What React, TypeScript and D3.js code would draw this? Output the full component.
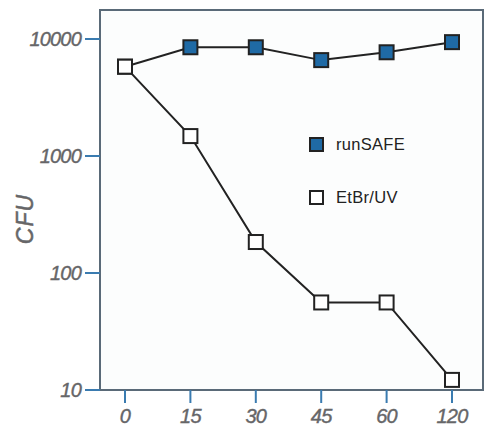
import React from "react";
import * as d3 from "d3";

const times = ["0", "15", "30", "45", "60", "120"];
const runSAFE = [5800, 8500, 8500, 6600, 7700, 9400];
const etbrUV = [5800, 1480, 184, 56, 56, 12.2];
const yTicks = [10, 100, 1000, 10000];
const yTickLabels = ["10", "100", "1000", "10000"];

const W = 486;
const H = 426;
const left = 100, right = 483, top = 10, bottom = 390;

export default function App() {
  const x = d3.scalePoint<string>().domain(times).range([125, 452]);
  const y = d3.scaleLog().domain([10, 10000]).range([bottom, 39]);
  const line = d3
    .line<number>()
    .x((_, i) => x(times[i]) as number)
    .y((d) => y(d));
  const ms = 14;
  const frame = "#5a6a78";
  const tickC = "#3a7bb0";
  const labelC = "#666668";
  const blue = "#1f6aa5";
  const dark = "#222";
  const font = "'Liberation Sans', Arial, sans-serif";

  return (
    <svg width={W} height={H} style={{ position: "absolute", left: 0, top: 0 }}>
      <rect x={0} y={0} width={W} height={H} fill="#fff" />
      <rect x={left} y={top} width={right - left} height={bottom - top} fill="#fcfdfd" stroke={frame} strokeWidth={2} />
      {yTicks.map((t, i) => (
        <g key={t}>
          <line x1={85} x2={left} y1={y(t)} y2={y(t)} stroke={tickC} strokeWidth={2} />
          <text x={81} y={y(t)} dy="0.36em" textAnchor="end" fontFamily={font} fontStyle="italic" fontSize={20} fill={labelC} stroke={labelC} strokeWidth={0.4} letterSpacing={-0.8}>
            {yTickLabels[i]}
          </text>
        </g>
      ))}
      {times.map((t) => (
        <g key={t}>
          <line x1={x(t)} x2={x(t)} y1={bottom} y2={403} stroke={tickC} strokeWidth={2} />
          <text x={x(t)} y={423} textAnchor="middle" fontFamily={font} fontStyle="italic" fontSize={20} fill={labelC} stroke={labelC} strokeWidth={0.4} letterSpacing={-0.8}>
            {t}
          </text>
        </g>
      ))}
      <text transform="translate(33,219) rotate(-90)" textAnchor="middle" fontFamily={font} fontStyle="italic" fontSize={23} fill={labelC} stroke={labelC} strokeWidth={0.5} letterSpacing={1}>
        CFU
      </text>
      <path d={line(runSAFE) || ""} fill="none" stroke={dark} strokeWidth={2} />
      <path d={line(etbrUV) || ""} fill="none" stroke={dark} strokeWidth={2} />
      {runSAFE.map((v, i) => (
        <rect key={"r" + i} x={(x(times[i]) as number) - ms / 2} y={y(v) - ms / 2} width={ms} height={ms} fill={blue} stroke={dark} strokeWidth={2} />
      ))}
      {etbrUV.map((v, i) => (
        <rect key={"e" + i} x={(x(times[i]) as number) - ms / 2} y={y(v) - ms / 2} width={ms} height={ms} fill="#fff" stroke={dark} strokeWidth={2} />
      ))}
      <rect x={310} y={138} width={13} height={13} fill={blue} stroke={dark} strokeWidth={2} />
      <text x={336} y={150} fontFamily={font} fontSize={16.5} fill={dark} letterSpacing={0.3}>runSAFE</text>
      <rect x={310} y={191} width={13} height={13} fill="#fff" stroke={dark} strokeWidth={2} />
      <text x={336} y={203} fontFamily={font} fontSize={16.5} fill={dark} letterSpacing={0.3}>EtBr/UV</text>
    </svg>
  );
}
